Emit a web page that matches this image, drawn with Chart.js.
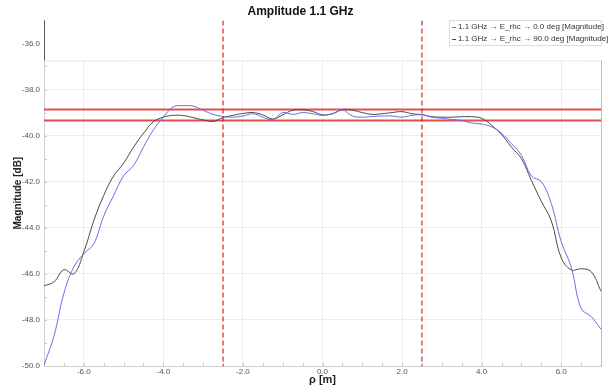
<!DOCTYPE html>
<html>
<head>
<meta charset="utf-8">
<script src="https://cdn.jsdelivr.net/npm/chart.js@4"></script>
<style>
  html, body { margin: 0; padding: 0; background: #fff; }
  #wrap { width: 613px; height: 388px; }
</style>
</head>
<body>
<div id="wrap"><canvas id="amp"></canvas></div>
<script>
// rho [m]
var rho = [-7, -6.75, -6.5, -6.25, -6, -5.75, -5.5, -5.25, -5, -4.75, -4.5, -4.25, -4, -3.75, -3.5, -3.25,
  -3, -2.75, -2.5, -2.25, -2, -1.75, -1.5, -1.25, -1, -0.75, -0.5, -0.25, 0, 0.25, 0.5, 0.75,
  1, 1.25, 1.5, 1.75, 2, 2.25, 2.5, 2.75, 3, 3.25, 3.5, 3.75, 4, 4.25, 4.5, 4.75,
  5, 5.25, 5.5, 5.75, 6, 6.25, 6.5, 6.75, 7];

// E_rhc 0.0 deg magnitude [dB]
var mag0 = [-49.96, -48.7, -46.85, -45.7, -45.13, -44.7, -43.5, -42.6, -41.75, -41.3, -40.5, -39.75, -39.2, -38.75, -38.7, -38.72,
  -38.9, -39.08, -39.17, -39.2, -39.15, -39.05, -39.2, -39.3, -39.0, -39.08, -39.0, -39.05, -39.12, -39.05, -38.88, -39.15,
  -39.2, -39.17, -39.15, -39.15, -39.2, -39.12, -39.1, -39.2, -39.25, -39.3, -39.35, -39.45, -39.5, -39.62, -39.9, -40.35,
  -40.85, -41.75, -42.0, -42.95, -44.6, -45.7, -47.5, -47.85, -48.4];

// E_rhc 90.0 deg magnitude [dB]
var mag90 = [-46.52, -46.35, -45.82, -46.0, -45.05, -43.7, -42.6, -41.75, -41.2, -40.5, -39.9, -39.4, -39.2, -39.12, -39.13, -39.22,
  -39.32, -39.38, -39.22, -39.12, -39.04, -39.0, -39.1, -39.28, -39.1, -38.9, -38.88, -38.95, -39.1, -39.05, -38.88, -38.9,
  -39.0, -39.08, -39.05, -39.0, -38.96, -39.05, -39.09, -39.18, -39.2, -39.2, -39.18, -39.18, -39.25, -39.55, -39.95, -40.5,
  -41.0, -41.95, -42.85, -43.7, -45.3, -45.83, -45.78, -45.9, -46.75];

var xTicks = [-6, -4, -2, 0, 2, 4, 6];
var yTicks = [-50, -48, -46, -44, -42, -40, -38, -36];
var bandLevels = [-38.87, -39.35];   // horizontal red limits
var markerRho = [-2.5, 2.5];          // vertical dashed markers
var labels = ["1.1 GHz \u2192 E_rhc \u2192 0.0 deg [Magnitude]", "1.1 GHz \u2192 E_rhc \u2192 90.0 deg [Magnitude]"];
var colors = ["#6b6be6", "#4a4a4a"];

var xMin = -7, xMax = 7, yMin = -50, yMax = -35;
var font = "'Liberation Sans', Arial, sans-serif";

function pts(xs, ys) {
  var out = [];
  for (var i = 0; i < xs.length; i++) out.push({ x: xs[i], y: ys[i] });
  return out;
}

var datasets = [
  { label: labels[0], data: pts(rho, mag0), borderColor: colors[0], borderWidth: 1, pointRadius: 0, tension: 0.4, order: 0 },
  { label: labels[1], data: pts(rho, mag90), borderColor: colors[1], borderWidth: 1, pointRadius: 0, tension: 0.4, order: 0 }
];
bandLevels.forEach(function (v) {
  datasets.push({ label: "band", data: [{ x: xMin, y: v }, { x: xMax, y: v }], borderColor: "rgba(225,45,45,0.85)",
    borderWidth: 2, pointRadius: 0, order: 2 });
});
markerRho.forEach(function (v) {
  datasets.push({ label: "marker", data: [{ x: v, y: yMax }, { x: v, y: yMin }], borderColor: "#e51b1b",
    borderWidth: 1.2, borderDash: [5, 3], pointRadius: 0, order: 1 });
});

// white top strip, frame and minor ticks
var framePlugin = {
  id: "frame",
  beforeDatasetsDraw: function (chart) {
    var ca = chart.chartArea, ctx = chart.ctx;
    var cut = ca.top + 40;
    ctx.save();
    ctx.fillStyle = "#fff";
    ctx.fillRect(ca.left + 1, ca.top - 1, ca.right - ca.left + 2, cut - ca.top + 1);
    ctx.strokeStyle = "#e6e6e6";
    ctx.lineWidth = 1;
    ctx.beginPath();
    ctx.moveTo(ca.left, cut + 0.5); ctx.lineTo(ca.right, cut + 0.5);
    ctx.stroke();
    ctx.strokeStyle = "#bdbdbd";
    ctx.beginPath();
    ctx.moveTo(ca.right + 0.5, cut); ctx.lineTo(ca.right + 0.5, ca.bottom);
    ctx.stroke();
    ctx.strokeStyle = "#555";
    ctx.beginPath();
    ctx.moveTo(ca.left + 0.5, ca.top); ctx.lineTo(ca.left + 0.5, cut);
    ctx.stroke();
    // minor ticks
    var xs = chart.scales.x, ys = chart.scales.y;
    ctx.strokeStyle = "#c8c8c8";
    ctx.beginPath();
    for (var v = xMin + 0.5; v < xMax; v += 0.5) {
      var px = Math.round(xs.getPixelForValue(v)) + 0.5;
      ctx.moveTo(px, ca.bottom); ctx.lineTo(px, ca.bottom - 3);
    }
    for (var w = yMin + 1; w < -36.5; w += 1) {
      var py = Math.round(ys.getPixelForValue(w)) + 0.5;
      ctx.moveTo(ca.left, py); ctx.lineTo(ca.left + 3, py);
    }
    ctx.stroke();
    ctx.restore();
  },
  afterDraw: function (chart) {
    var ctx = chart.ctx;
    var bx = 449, by = 20, bw = 152, bh = 25;
    ctx.save();
    ctx.fillStyle = "#fff";
    ctx.fillRect(bx, by, bw, bh);
    ctx.strokeStyle = "#dcdcdc";
    ctx.lineWidth = 1;
    ctx.strokeRect(bx + 0.5, by + 0.5, bw, bh);
    ctx.font = "8px " + font;
    ctx.textBaseline = "middle";
    for (var i = 0; i < 2; i++) {
      var y = by + 7 + i * 12;
      ctx.strokeStyle = colors[i];
      ctx.beginPath();
      ctx.moveTo(bx + 3, y + 0.5); ctx.lineTo(bx + 7, y + 0.5);
      ctx.stroke();
      ctx.fillStyle = "#333";
      ctx.fillText(labels[i], bx + 9, y);
    }
    ctx.restore();
  }
};

function setTicks(list) {
  return function (scale) {
    scale.ticks = list.map(function (v) { return { value: v }; });
  };
}

new Chart(document.getElementById("amp"), {
  type: "line",
  data: { datasets: datasets },
  options: {
    responsive: true,
    maintainAspectRatio: false,
    animation: false,
    devicePixelRatio: 1,
    layout: { padding: { right: 12, left: 0, top: 0, bottom: 0 } },
    plugins: {
      legend: { display: false },
      tooltip: { enabled: false },
      title: {
        display: true,
        text: "Amplitude 1.1 GHz",
        color: "#111",
        font: { family: font, size: 12, weight: "bold" },
        padding: { top: 4, bottom: 2 }
      }
    },
    scales: {
      x: {
        type: "linear",
        min: xMin,
        max: xMax,
        afterBuildTicks: setTicks(xTicks),
        afterFit: function (s) { s.height = 22; },
        grid: { color: "#ececec", drawTicks: false, tickLength: 0 },
        border: { color: "#cfcfcf" },
        ticks: {
          padding: 1, color: "#555",
          font: { family: font, size: 8 },
          callback: function (v) { return v.toFixed(1); }
        },
        title: { display: true, text: "\u03c1 [m]", color: "#222", font: { family: font, size: 11, weight: "bold" }, padding: { top: 0, bottom: 1 } }
      },
      y: {
        min: yMin,
        max: yMax,
        afterBuildTicks: setTicks(yTicks),
        afterFit: function (s) { s.width = 44; },
        grid: { color: "#ececec", drawTicks: false, tickLength: 0 },
        border: { color: "#cfcfcf" },
        ticks: {
          padding: 4, color: "#555",
          font: { family: font, size: 8 },
          callback: function (v) { return v.toFixed(1); }
        },
        title: { display: true, text: "Magnitude [dB]", color: "#222", font: { family: font, size: 10, weight: "bold" }, padding: { top: 12, bottom: 0 } }
      }
    }
  },
  plugins: [framePlugin]
});
</script>
</body>
</html>
